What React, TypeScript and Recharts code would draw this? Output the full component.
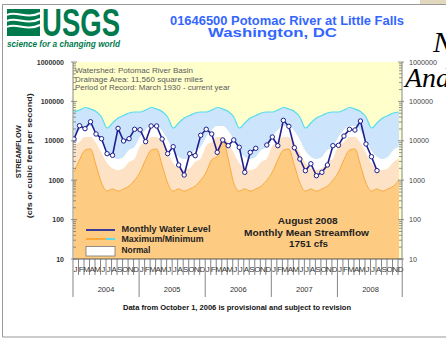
import { ComposedChart, Area, Line, XAxis, YAxis, CartesianGrid } from 'recharts';

// monthly data, Jan 2004 .. Dec 2008 (60 months)
const monthLetters = ['J', 'F', 'M', 'A', 'M', 'J', 'J', 'A', 'S', 'O', 'N', 'D'];
const years = ['2004', '2005', '2006', '2007', '2008'];

const monthlyFlow = [
  11100, 24200, 20300, 30500, 14900, 11300, 4710, 4290, 20700, 9900, 11300, 19600,
  19100, 9500, 23800, 23800, 11100, 4710, 7080, 2430, 1355, 4710, 4190, 13800,
  19600, 14900, 5100, 10500, 7520, 10500, 6840, 1585, 5100, 6450, null, 7810,
  12500, 7520, 33100, 23300, 6680, 3450, 1740, 2620, 1300, 1585, 2430, 7520,
  7690, 13200, 19600, 18800, 31800, 8300, 3950, 1751, null, null, null, null,
];

const maxFlow = [
  53800, 60500, 70000, 64100, 55400, 40200, 21100, 28300, 37900, 43900, 50800, 53800,
  53800, 60500, 70000, 64100, 55400, 40200, 21100, 28300, 37900, 43900, 50800, 53800,
  53800, 60500, 70000, 64100, 55400, 40200, 21100, 28300, 37900, 43900, 50800, 53800,
  53800, 60500, 70000, 64100, 55400, 40200, 21100, 28300, 37900, 43900, 50800, 53800,
  53800, 60500, 70000, 64100, 55400, 40200, 21100, 28300, 37900, 43900, 50800, 53800,
];

const upperNormal = [
  12500, 18800, 23800, 23800, 17700, 10500, 5500, 3900, 3450, 3900, 5800, 7000,
  12500, 18800, 23800, 23800, 17700, 10500, 5500, 3900, 3450, 3900, 5800, 7000,
  12500, 18800, 23800, 23800, 17700, 10500, 5500, 3900, 3450, 3900, 5800, 7000,
  12500, 18800, 23800, 23800, 17700, 10500, 5500, 3900, 3450, 3900, 5800, 7000,
  12500, 18800, 23800, 23800, 17700, 10500, 5500, 3900, 3450, 3900, 5800, 7000,
];

const lowerNormal = [
  7400, 9300, 12500, 12500, 8800, 4900, 2700, 2000, 1800, 2000, 2900, 3500,
  7400, 9300, 12500, 12500, 8800, 4900, 2700, 2000, 1800, 2000, 2900, 3500,
  7400, 9300, 12500, 12500, 8800, 4900, 2700, 2000, 1800, 2000, 2900, 3500,
  7400, 9300, 12500, 12500, 8800, 4900, 2700, 2000, 1800, 2000, 2900, 3500,
  7400, 9300, 12500, 12500, 8800, 4900, 2700, 2000, 1800, 2000, 2900, 3500,
];

const minFlow = [
  1600, 3300, 5800, 6200, 2400, 850, 530, 600, 530, 600, 710, 1000,
  1600, 3300, 5800, 6200, 2400, 850, 530, 600, 530, 600, 710, 1000,
  1600, 3300, 4000, 11500, 3500, 850, 530, 600, 530, 600, 710, 1000,
  1600, 3300, 5800, 6200, 2400, 850, 530, 600, 530, 600, 710, 1000,
  1600, 3300, 5800, 6200, 2400, 850, 530, 600, 530, 600, 710, 1000,
];

const decadeTicks = [10, 100, 1000, 10000, 100000, 1000000];
const logTicks = [
  10, 20, 30, 40, 50, 60, 70, 80, 90,
  100, 200, 300, 400, 500, 600, 700, 800, 900,
  1000, 2000, 3000, 4000, 5000, 6000, 7000, 8000, 9000,
  10000, 20000, 30000, 40000, 50000, 60000, 70000, 80000, 90000,
  100000, 200000, 300000, 400000, 500000, 600000, 700000, 800000, 900000,
  1000000,
];
const axisFloor = 10;

const data = monthlyFlow.map((flow, i) => ({
  i,
  flow,
  max: maxFlow[i],
  min: minFlow[i],
  aboveNormal: [upperNormal[i], maxFlow[i]],
  normal: [lowerNormal[i], upperNormal[i]],
  belowNormal: [minFlow[i], lowerNormal[i]],
  lowest: [axisFloor, minFlow[i]],
}));

const monthIdx = data.map((d) => d.i);

const FONT = '"Liberation Sans", Arial, sans-serif';

const MonthTick = (props: any) => {
  const { x, y, payload } = props;
  const i = payload.value as number;
  const m = i % 12;
  return (
    <g>
      <line x1={x - 1} x2={x - 1} y1={y} y2={y + (m === 0 ? 38 : 16)} stroke="#666" strokeWidth={0.8} />
      <text x={x + 1.6} y={y + 13} fontSize={8} textAnchor="middle" fill="#333" fontFamily={FONT}>
        {monthLetters[m]}
      </text>
      {m === 6 && (
        <text x={x - 1} y={y + 33} fontSize={7.5} textAnchor="middle" fill="#333" fontFamily={FONT}>
          {years[Math.floor(i / 12)]}
        </text>
      )}
      {i === 59 && <line x1={x + 3.2} x2={x + 3.2} y1={y} y2={y + 38} stroke="#666" strokeWidth={0.8} />}
    </g>
  );
};

const LeftTick = (props: any) => {
  const { x, y, payload } = props;
  const major = decadeTicks.includes(payload.value);
  return (
    <g>
      <line x1={major ? x - 2 : x} x2={x + (major ? 4 : 3)} y1={y} y2={y} stroke="#777" strokeWidth={0.8} />
      {major && (
        <text x={x - 9} y={y + 2.5} textAnchor="end" fontSize={7} fontWeight="bold" fill="#333" fontFamily={FONT}>
          {payload.value}
        </text>
      )}
    </g>
  );
};

const RightTick = (props: any) => {
  const { x, y, payload } = props;
  const major = decadeTicks.includes(payload.value);
  return (
    <g>
      <line x1={x - (major ? 4 : 3)} x2={major ? x + 2 : x} y1={y} y2={y} stroke="#777" strokeWidth={0.8} />
      {major && (
        <text x={x + 7} y={y + 2.5} textAnchor="start" fontSize={7.2} fill="#444" fontFamily={FONT}>
          {payload.value}
        </text>
      )}
    </g>
  );
};

export default function App() {
  return (
    <div style={{ position: 'absolute', left: 0, top: 0, width: 446, height: 339, background: '#fff' }}>
      <ComposedChart width={446} height={339} data={data} margin={{ top: 62, right: 4, bottom: 40, left: 13 }}>
        <CartesianGrid fill="#FFFFCC" fillOpacity={1} horizontal={false} vertical={false} />
        <XAxis
          dataKey="i"
          type="number"
          domain={[-0.18, 59.54]}
          allowDataOverflow
          ticks={monthIdx}
          interval={0}
          tick={(p: any) => <MonthTick {...p} />}
          tickLine={false}
          tickSize={0}
          tickMargin={0}
          height={40}
          axisLine={{ stroke: '#555' }}
        />
        <YAxis
          scale="log"
          domain={[10, 1000000]}
          allowDataOverflow
          ticks={logTicks}
          interval={0}
          width={60}
          tick={(p: any) => <LeftTick {...p} />}
          tickLine={false}
          tickSize={0}
          tickMargin={0}
          axisLine={{ stroke: '#888' }}
        />
        <YAxis
          yAxisId="r"
          orientation="right"
          scale="log"
          domain={[10, 1000000]}
          allowDataOverflow
          ticks={logTicks}
          interval={0}
          width={40}
          tick={(p: any) => <RightTick {...p} />}
          tickLine={false}
          tickSize={0}
          tickMargin={0}
          axisLine={{ stroke: '#888' }}
        />
        <Area dataKey="aboveNormal" type="monotone" fill="#CCE4FC" fillOpacity={1} stroke="none" isAnimationActive={false} />
        <Area dataKey="normal" type="monotone" fill="#FFFFFF" fillOpacity={1} stroke="none" isAnimationActive={false} />
        <Area dataKey="belowNormal" type="monotone" fill="#FEE2C6" fillOpacity={1} stroke="none" isAnimationActive={false} />
        <Area dataKey="lowest" type="monotone" fill="#FECB82" fillOpacity={1} stroke="none" isAnimationActive={false} />
        <Line dataKey="max" type="monotone" stroke="#55DDEE" strokeWidth={1.2} dot={false} isAnimationActive={false} />
        <Line dataKey="min" type="monotone" stroke="#F9A93B" strokeWidth={1} dot={false} isAnimationActive={false} />
        <Line
          dataKey="flow"
          type="linear"
          stroke="#1F1F8F"
          strokeWidth={1.6}
          dot={{ r: 2.2, fill: '#fff', stroke: '#1F1F8F', strokeWidth: 1 }}
          connectNulls={false}
          isAnimationActive={false}
        />
      </ComposedChart>

      <svg width={446} height={339} style={{ position: 'absolute', left: 0, top: 0, pointerEvents: 'none' }} fontFamily={FONT}>
        {/* slide frame */}
        <rect x={420} y={0} width={26} height={4} fill="#E2D8BE" />
        <line x1={2.5} x2={446} y1={4.5} y2={4.5} stroke="#999" />
        <line x1={2.5} x2={2.5} y1={4.5} y2={337} stroke="#999" />
        <line x1={2.5} x2={446} y1={337} y2={337} stroke="#999" />

        {/* USGS logo */}
        <rect x={7} y={9} width={33} height={27} fill="#007A4D" />
        <path d="M7,15 C16,10 26,20 40,13" stroke="#fff" strokeWidth={2} fill="none" />
        <path d="M7,21 C16,16 26,26 40,19" stroke="#fff" strokeWidth={2} fill="none" />
        <path d="M7,27 C16,22 26,32 40,25" stroke="#fff" strokeWidth={2} fill="none" />
        <text x={42} y={36} fontSize={39} fontWeight="bold" fill="#007A4D" textLength={78} lengthAdjust="spacingAndGlyphs">
          USGS
        </text>
        <text x={7} y={47} fontSize={8.5} fontStyle="italic" fontWeight="bold" fill="#007A4D" textLength={113} lengthAdjust="spacingAndGlyphs">
          science for a changing world
        </text>

        {/* title */}
        <text x={170} y={24.5} fontSize={12.5} fontWeight="bold" fill="#3366FF" textLength={234} lengthAdjust="spacingAndGlyphs">
          01646500 Potomac River at Little Falls
        </text>
        <text x={208} y={37} fontSize={12.5} fontWeight="bold" fill="#3366FF" textLength={129} lengthAdjust="spacingAndGlyphs">
          Washington, DC
        </text>

        {/* background slide text */}
        <text x={433} y={52} fontSize={30} fontStyle="italic" fontFamily='"Liberation Serif", serif' fill="#000">N</text>
        <text x={405} y={87} fontSize={28} fontStyle="italic" fontFamily='"Liberation Serif", serif' fill="#000">And</text>

        {/* axis title */}
        <text transform="rotate(-90 21.5 151.7)" x={21.5} y={151.7} textAnchor="middle" fontSize={7.8} fontWeight="bold" fill="#222" textLength={53} lengthAdjust="spacingAndGlyphs">
          STREAMFLOW
        </text>
        <text transform="rotate(-90 32 155.8)" x={32} y={155.8} textAnchor="middle" fontSize={7.8} fontWeight="bold" fill="#222" textLength={125} lengthAdjust="spacingAndGlyphs">
          (cfs or cubic feet per second)
        </text>

        {/* station info */}
        <text x={75} y={73} fontSize={7.8} fill="#5A5A5A" textLength={118} lengthAdjust="spacingAndGlyphs">Watershed: Potomac River Basin</text>
        <text x={75} y={81.5} fontSize={7.8} fill="#5A5A5A" textLength={128} lengthAdjust="spacingAndGlyphs">Drainage Area: 11,560 square miles</text>
        <text x={75} y={90} fontSize={7.8} fill="#5A5A5A" textLength={155} lengthAdjust="spacingAndGlyphs">Period of Record: March 1930 - current year</text>

        {/* legend */}
        <line x1={86} x2={115} y1={230} y2={230} stroke="#3A3A9A" strokeWidth={2} />
        <line x1={86} x2={106} y1={239} y2={239} stroke="#F9A93B" strokeWidth={2} />
        <line x1={106} x2={115} y1={239} y2={239} stroke="#55DDEE" strokeWidth={2} />
        <rect x={86} y={246.5} width={29} height={9.5} fill="#fff" stroke="#777" strokeWidth={0.8} />
        <text x={121.5} y={231.5} fontSize={8.4} fontWeight="bold" fill="#222" textLength={89} lengthAdjust="spacingAndGlyphs">Monthly Water Level</text>
        <text x={121.5} y={242} fontSize={8.4} fontWeight="bold" fill="#222" textLength={82} lengthAdjust="spacingAndGlyphs">Maximum/Minimum</text>
        <text x={121.5} y={252.7} fontSize={8.4} fontWeight="bold" fill="#222">Normal</text>

        {/* current month note */}
        <text x={307.7} y={223.5} fontSize={9.6} fontWeight="bold" fill="#222" textAnchor="middle" textLength={60} lengthAdjust="spacingAndGlyphs">August 2008</text>
        <text x={306.5} y={235.5} fontSize={9.6} fontWeight="bold" fill="#222" textAnchor="middle" textLength={125} lengthAdjust="spacingAndGlyphs">Monthly Mean Streamflow</text>
        <text x={308.5} y={246.5} fontSize={9.6} fontWeight="bold" fill="#222" textAnchor="middle" textLength={39} lengthAdjust="spacingAndGlyphs">1751 cfs</text>

        {/* footnote */}
        <text x={123} y={309.5} fontSize={7} fontWeight="bold" fill="#111" textLength={228} lengthAdjust="spacingAndGlyphs">
          Data from October 1, 2006 is provisional and subject to revision
        </text>
      </svg>
    </div>
  );
}
